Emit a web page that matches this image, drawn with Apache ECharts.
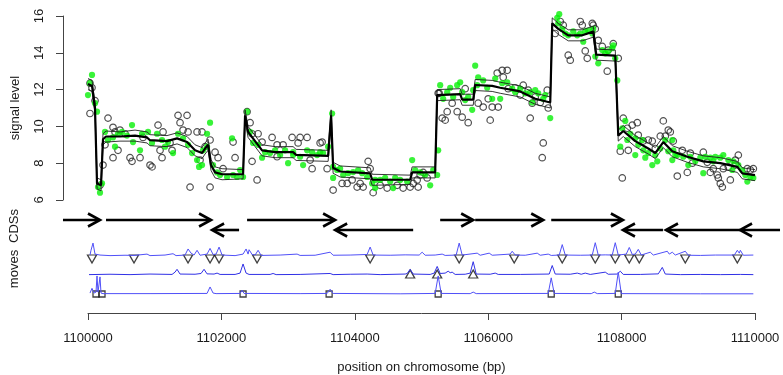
<!DOCTYPE html>
<html>
<head>
<meta charset="utf-8">
<script src="https://cdn.jsdelivr.net/npm/echarts@6/dist/echarts.min.js"></script>
<style>
  html, body { margin: 0; padding: 0; background: #ffffff; }
  #chart { width: 783px; height: 375px; }
</style>
</head>
<body>
<div id="chart"></div>
<script>
// Genomic window; all positions below are bp offsets from regionStart.
const regionStart = 1100000;
const regionEnd = 1110000;
const xTickStep = 2000;
const signalTicks = [6, 8, 10, 12, 14, 16];

// Raw signal (open circles): [offset, level]
const rawSignal = [
  [30,12.35],[60,12.1],[30,10.7],[105,11.4],[180,6.8],[225,7.9],[255,9.0],
  [300,10.45],[375,9.95],[375,8.3],[405,9.7],[480,9.8],[450,8.7],[555,9.6],[630,8.3],[660,8.1],[780,8.3],
  [825,9.4],[930,7.9],[960,7.8],[1050,10.07],[1080,8.7],[1125,9.7],[1110,8.3],[1230,9.1],[1350,10.6],
  [1380,10.2],[1485,10.6],[1500,9.7],[1425,9.8],[1635,9.7],[1530,6.7],[1680,8.17],[1260,8.7],
  [1710,9.7],[1755,8.9],[1830,9.26],[1905,8.6],[1950,8.3],[2025,7.7],[2175,9.15],[2205,8.3],[1830,6.7],
  [2535,7.09],[2385,10.8],[2430,10.2],[2460,9.6],[2550,9.6],[2610,9.15],[2760,9.4],[2835,9.0],[2925,9.0],
  [3060,9.4],[3180,9.4],[3285,9.4],[3150,9.1],[3360,7.7],[3330,8.17],[3480,9.1],[2460,8.1],[2835,8.35],
  [3510,9.15],[3585,7.7],[3675,6.54],[3810,6.9],[3885,6.9],[3960,7.09],[4035,6.7],[4080,6.9],[4125,6.7],
  [4200,8.1],[4230,7.7],[4275,6.4],[4380,6.8],[4485,6.65],[4635,6.8],[4725,6.65],[4830,6.7],[4875,6.9],
  [4950,6.7],[4980,7.36],[5025,7.5],[5085,7.2],[4935,7.09],[5265,11.8],
  [5250,11.8],[5310,10.45],[5355,10.34],[5385,10.8],[5460,11.26],[5535,10.8],[5610,10.5],[5700,10.2],
  [5655,12.05],[5850,11.26],[5925,11.05],[6000,11.5],[6030,10.34],[6060,11.05],[6135,12.9],[6210,13.05],
  [6285,13.05],[6225,12.67],[6150,11.05],[6300,12.05],[6405,12.1],[6480,11.7],[6525,12.24],[6600,11.97],
  [6660,11.26],[6630,10.45],[6705,11.6],[6780,11.3],[6885,11.97],[6825,9.1],[6810,8.3],[6900,11.0],
  [7005,15.05],[7080,15.7],[7125,15.5],[7200,13.87],[7230,13.6],[7380,15.7],[7410,15.5],[7455,14.1],
  [7485,13.7],[7560,15.6],[7575,15.5],[7605,15.3],[7650,14.68],[7710,14.35],[7785,13.0],[7800,14.15],
  [7875,14.5],[7950,13.7],[7980,8.65],[8025,10.45],[8010,7.2],[8085,9.9],[8100,8.7],[8160,10.07],
  [8235,10.2],[8250,9.53],[8325,9.2],[8400,9.26],[8460,9.2],[8580,9.47],[8625,10.3],[8700,9.8],
  [8655,9.47],[8775,9.2],[8835,7.3],[8505,8.8],
  [8730,9.7],[8910,8.7],[9030,8.55],[8985,7.5],[9060,8.0],[9225,8.6],[9285,8.05],[9330,7.5],[9435,7.36],
  [9480,6.9],[9510,6.7],[9450,7.2],[9630,7.09],[9600,7.8],[9705,8.17],[9750,8.44],[9885,7.7],[9930,7.63],
  [9975,7.7],[9705,7.9],[9525,7.7],[9375,7.7]
];

// Normalised signal (filled green points): [offset, level]
const normSignal = [
  [60,12.8],[30,12.35],[0,11.7],[105,11.26],[135,10.8],[150,6.7],[180,6.4],[210,6.9],
  [255,9.7],[300,9.26],[375,9.4],[405,8.9],[450,9.6],[510,9.7],[585,9.5],[660,10.07],[675,9.15],[780,8.7],
  [810,9.6],[900,9.7],[960,9.1],[1035,9.6],[1110,9.26],[1155,8.9],[1200,9.15],[1275,8.55],[1350,9.6],
  [1425,9.35],[1500,9.0],[1560,8.55],[1635,8.17],[1665,7.8],[1725,8.7],
  [1830,10.2],[1785,9.6],[1785,8.9],[1710,7.9],[1875,7.9],[1935,7.5],[1980,7.36],[2085,7.25],[2175,7.36],
  [2235,7.25],[2280,7.63],[2325,7.25],[2160,9.35],[2385,10.8],[2430,9.7],[2475,9.1],[2550,9.0],[2610,8.3],
  [2655,8.6],[2730,8.55],[2805,8.7],[2880,8.44],[2955,8.7],[3000,8.0],[3075,8.6],[3180,8.35],[3285,8.7],
  [3360,8.6],[3435,8.44],[3480,8.6],[3225,7.9],[3075,8.44],
  [3525,8.55],[3600,8.9],[3660,10.7],[3675,7.8],[3735,7.63],[3780,7.7],[3825,7.36],[3900,7.46],[3975,7.52],
  [4050,7.63],[4110,7.46],[3675,7.2],[4185,7.25],[4260,6.9],[4305,7.09],[4380,7.09],[4455,7.2],[4530,7.0],
  [4605,7.2],[4680,7.09],[4785,7.0],[4860,8.17],[4905,7.63],[4980,7.5],[5055,7.36],[5130,6.8],[5175,7.63],
  [5250,8.7],[4305,6.65],[4575,6.65],
  [5235,7.36],[5280,12.24],[5325,11.5],[5385,11.86],[5430,12.1],[5475,11.6],[5535,12.24],[5580,12.4],
  [5610,11.86],[5655,11.43],[5700,11.6],[5760,10.9],[5775,11.97],[5835,12.24],[5805,13.3],[5850,12.67],
  [5925,12.5],[5985,12.1],[6060,11.5],[6105,12.6],[6210,12.35],[6285,12.4],[6360,12.05],[6405,11.86],
  [6480,12.05],[6555,11.8],[6630,11.86],[6705,11.97],[6750,11.8],[6825,11.5],[6855,11.7],[6930,10.45],
  [6180,11.5],[6660,11.3],
  [7035,15.9],[7065,16.1],[7050,15.6],[7110,15.3],[7155,15.05],[7200,14.95],[7275,15.17],[7335,14.95],
  [7380,15.05],[7425,14.6],[7455,15.17],[7500,15.2],[7560,15.05],[7575,15.3],[7605,13.8],[7650,13.43],
  [7710,14.15],[7755,13.97],[7800,14.08],[7860,14.25],[7875,14.4],[7905,13.7],[7935,12.5],[8010,9.9],
  [8055,10.3],[8085,9.26],[8130,9.6],[8205,9.35],[8250,9.0],[8310,9.26],[8325,8.7],[8400,8.55],[8460,7.9],
  [8505,8.44],[8580,8.8],[8655,9.26],[8700,8.65],[8760,8.17],[8805,8.44],[7980,8.9],[8205,8.44],[8355,8.3],
  [8535,8.1],
  [8760,9.26],[8775,8.7],[8835,8.44],[8925,8.35],[9030,8.35],[9105,8.1],[9180,8.3],[9255,8.35],[9330,8.3],
  [9405,8.35],[9480,8.3],[9525,8.44],[9600,8.17],[9675,8.1],[9750,7.9],[9810,7.63],[9855,7.36],[9930,7.25],
  [9975,7.2],[9225,7.46],[9375,8.1],[9000,7.9],[9885,7.0],[9660,7.63]
];

// Fitted level with its lower / upper band
const fitPos = [
  0,60,105,135,195,225,270,480,705,885,930,1185,1335,1485,1605,1710,1755,1800,1845,1905,
  2010,2325,2355,2400,2505,2610,2805,3075,3120,3600,3645,3675,3780,4230,4260,4830,4860,5205,5235,5580,
  5610,5775,5805,6060,6180,6480,6705,6930,6960,7050,7200,7410,7575,7620,7905,7950,8025,8205,8400,8505,
  8625,8760,8985,9225,9480,9735,9810,10000
];
const fitMid = [
  12.3,12.2,11.0,6.9,6.8,9.3,9.45,9.45,9.5,9.4,9.25,9.2,9.35,9.15,8.7,8.55,8.8,9.0,7.9,7.5,
  7.4,7.4,10.6,9.7,9.2,8.7,8.6,8.6,8.45,8.4,10.6,7.75,7.55,7.45,7.1,7.1,7.5,7.5,11.7,11.75,
  11.45,11.45,12.25,12.2,12.1,11.9,11.5,11.3,15.6,15.3,14.95,14.95,15.15,13.9,13.85,9.5,9.75,9.2,8.8,8.55,
  9.15,8.65,8.35,8.1,8.0,7.8,7.45,7.35
];
const fitUpper = [
  12.6,12.5,11.3,7.2,7.1,9.6,9.75,9.7,9.8,9.7,9.55,9.5,9.65,9.45,9.0,8.85,9.1,9.3,8.2,7.8,
  7.7,7.65,10.9,10.0,9.5,9.0,8.9,8.9,8.75,8.7,10.9,8.05,7.85,7.75,7.4,7.35,7.8,7.8,12.0,12.05,
  11.75,11.75,12.55,12.5,12.4,12.2,11.8,11.6,15.9,15.6,15.25,15.25,15.45,14.2,14.15,9.8,10.05,9.5,9.1,8.85,
  9.45,8.95,8.65,8.4,8.3,8.1,7.75,7.65
];
const fitLower = [
  12.0,11.9,10.7,6.6,6.5,9.0,9.15,9.2,9.2,9.1,8.95,8.9,9.05,8.85,8.4,8.25,8.5,8.7,7.6,7.2,
  7.1,7.15,10.3,9.4,8.9,8.4,8.3,8.3,8.15,8.1,10.3,7.45,7.25,7.15,6.8,6.85,7.2,7.2,11.4,11.45,
  11.15,11.15,11.95,11.9,11.8,11.6,11.2,11.0,15.3,15.0,14.65,14.65,14.85,13.6,13.55,9.2,9.45,8.9,8.5,8.25,
  8.85,8.35,8.05,7.8,7.7,7.5,7.15,7.05
];

// Coding sequences: start, end, strand
const cdsStart  = [-375, 270, 1860, 2385, 3705, 5280, 5805, 6945, 8020, 8665, 9775];
const cdsEnd    = [180, 1845, 2265, 3705, 4875, 5775, 6825, 8020, 8620, 9775, 10375];
const cdsStrand = [1, 1, -1, 1, -1, 1, 1, 1, -1, -1, -1];

// Move traces: [offset, score]
const movesA = [
  [30,0.05],[45,0.3],[75,0.68],[105,0.1],[180,0.05],[330,0.02],[555,0.04],[690,0.03],[885,0.1],[930,0.02],
  [1155,0.05],[1275,0.12],[1320,0.02],[1455,0.05],[1500,0.37],[1545,0.15],[1590,0.05],[1635,0.3],[1680,0.04],
  [1785,0.1],[1830,0.4],[1875,0.08],[1920,0.1],[1965,0.47],[2010,0.05],[2205,0.02],[2325,0.1],[2370,0.37],
  [2400,0.1],[2415,0.33],[2460,0.08],[2505,0.05],[2550,0.3],[2595,0.03],[2880,0.05],[3135,0.1],[3180,0.03],
  [3405,0.04],[3630,0.2],[3675,0.04],[3930,0.05],[4185,0.08],[4230,0.47],[4275,0.05],[4530,0.04],[4755,0.06],
  [4965,0.05],[5010,0.2],[5055,0.04],[5205,0.05],[5310,0.1],[5355,0.03],[5520,0.05],[5565,0.68],[5610,0.05],
  [5835,0.15],[5880,0.04],[6015,0.15],[6060,0.04],[6330,0.1],[6360,0.25],[6405,0.05],[6555,0.04],[6735,0.15],
  [6780,0.04],[6900,0.1],[6945,0.03],[7065,0.05],[7110,0.6],[7155,0.05],[7380,0.04],[7560,0.05],[7605,0.7],
  [7650,0.05],[7755,0.06],[7860,0.05],[7905,0.7],[7950,0.05],[8070,0.1],[8115,0.45],[8160,0.08],[8205,0.1],
  [8250,0.35],[8295,0.05],[8430,0.2],[8475,0.05],[8685,0.25],[8715,0.1],[8760,0.2],[8805,0.05],[8955,0.25],
  [9000,0.04],[9180,0.03],[9405,0.05],[9690,0.05],[9735,0.3],[9765,0.15],[9780,0.3],[9825,0.04],[9975,0.05]
];
const movesB = [
  [15,0.02],[330,0.04],[630,0.02],[930,0.05],[1260,0.03],[1305,0.15],[1335,0.3],[1380,0.05],[1605,0.04],
  [1695,0.08],[1740,0.3],[1785,0.06],[1890,0.05],[1935,0.1],[1980,0.03],[2205,0.03],[2280,0.1],[2325,0.58],
  [2370,0.1],[2415,0.03],[2730,0.03],[2775,0.08],[2820,0.02],[3180,0.03],[3630,0.08],[3675,0.02],[3930,0.04],
  [4185,0.05],[4380,0.02],[4755,0.05],[4785,0.08],[4830,0.3],[4875,0.05],[5130,0.03],[5190,0.1],[5235,0.45],
  [5280,0.08],[5355,0.1],[5400,0.2],[5430,0.12],[5460,0.15],[5505,0.03],[5655,0.04],[5730,0.1],[5775,0.7],
  [5820,0.05],[6030,0.04],[6105,0.1],[6150,0.03],[6480,0.03],[6915,0.05],[6960,0.5],[7005,0.05],[7230,0.04],
  [7335,0.1],[7395,0.04],[7455,0.1],[7530,0.03],[7755,0.15],[7800,0.04],[7935,0.05],[7980,0.2],[8025,0.03],
  [8280,0.03],[8550,0.06],[8610,0.4],[8655,0.05],[8880,0.02],[9180,0.03],[9480,0.02],[9780,0.03],[9975,0.02]
];
const movesC = [
  [30,0.05],[60,0.3],[90,0.05],[120,0.1],[135,0.95],[150,0.1],[165,0.1],[180,0.9],[195,0.05],[225,0.02],
  [930,0.02],[1785,0.03],[1830,0.37],[1875,0.05],[1920,0.02],[2280,0.03],[2310,0.2],[2340,0.03],[3180,0.02],
  [3585,0.03],[3630,0.25],[3675,0.03],[4680,0.01],[5205,0.03],[5250,0.95],[5295,0.03],[5730,0.02],[5775,0.1],
  [5820,0.02],[6900,0.03],[6945,0.85],[6990,0.03],[7545,0.02],[7590,0.1],[7635,0.02],[7905,0.03],[7950,1.15],
  [7995,0.02],[9180,0.01],[9975,0.01]
];
// Called move events on each trace
const eventsA = [60, 690, 1500, 1830, 1965, 2535, 4230, 5565, 6390, 7110, 7605, 7905, 8115, 8265, 8955, 9735];
const eventsB = [4830, 5235, 5775];
const eventsC = [120, 210, 2325, 3615, 5250, 6945, 7950];

const FONT = 'Liberation Sans';
const INK = '#1a1a1a';
const MOVE_BLUE = '#5050f8';

const abs = p => regionStart + p;
const lane = (pts, base) => pts.map(([p, v]) => [abs(p), v + base]);
const events = (list, base) => list.map(p => [abs(p), base]);

const fitSeries = (vals, width, color) => ({
  type: 'line', xAxisIndex: 0, yAxisIndex: 0,
  data: fitPos.map((p, i) => [abs(p), vals[i]]),
  showSymbol: false, clip: false, silent: true,
  lineStyle: { color, width }
});

const chart = echarts.init(document.getElementById('chart'), null, { renderer: 'canvas' });

const plotLeft = 88, plotWidth = 667;
const hiddenX = idx => ({
  type: 'value', gridIndex: idx, min: regionStart, max: regionEnd, show: false
});
const hiddenY = (idx, min, max) => ({ type: 'value', gridIndex: idx, min, max, show: false });

// Rotated panel title on the left margin
const panelTitle = (text, cy) => ({
  type: 'text', x: 14, y: cy, rotation: Math.PI / 2,
  style: { text, font: `13px "${FONT}"`, fill: INK, align: 'center', verticalAlign: 'middle' }
});

chart.setOption({
  animation: false,
  backgroundColor: '#ffffff',
  grid: [
    { left: plotLeft, width: plotWidth, top: 16, height: 184 },
    { left: plotLeft, width: plotWidth, top: 220, height: 10 },
    { left: plotLeft, width: plotWidth, top: 237, height: 57 },
    { left: plotLeft, width: plotWidth, top: 300, height: 13 }
  ],
  graphic: [
    panelTitle('CDSs', 226),
    panelTitle('moves', 269)
  ],
  xAxis: [
    hiddenX(0),
    hiddenX(1),
    hiddenX(2),
    {
      type: 'value', gridIndex: 3, min: regionStart, max: regionEnd, interval: xTickStep,
      position: 'bottom',
      name: 'position on chromosome (bp)', nameLocation: 'middle', nameGap: 48,
      nameTextStyle: { fontFamily: FONT, fontSize: 13, color: INK },
      axisLine: { show: true, lineStyle: { color: '#444', width: 1 } },
      axisTick: { show: true, length: 7, lineStyle: { color: '#444' } },
      axisLabel: { margin: 19, fontFamily: FONT, fontSize: 13, color: INK, formatter: v => String(v) },
      splitLine: { show: false }
    }
  ],
  yAxis: [
    {
      type: 'value', gridIndex: 0, min: signalTicks[0], max: signalTicks[signalTicks.length - 1],
      interval: signalTicks[1] - signalTicks[0], offset: 25,
      name: 'signal level', nameLocation: 'middle', nameGap: 41,
      nameTextStyle: { fontFamily: FONT, fontSize: 13, color: INK },
      axisLine: { show: true, lineStyle: { color: '#444', width: 1 } },
      axisTick: { show: true, length: 7, lineStyle: { color: '#444' } },
      axisLabel: { rotate: 90, margin: 17, fontFamily: FONT, fontSize: 13, color: INK, formatter: v => String(v) },
      splitLine: { show: false }
    },
    hiddenY(1, 0, 1),
    hiddenY(2, 0, 3),
    hiddenY(3, 0, 1)
  ],
  series: [
    {
      type: 'scatter', xAxisIndex: 0, yAxisIndex: 0, clip: false, silent: true,
      data: rawSignal.map(([p, v]) => [abs(p), v]),
      symbol: 'circle', symbolSize: 6.5,
      itemStyle: { color: 'rgba(0,0,0,0)', borderColor: '#262626', borderWidth: 1.2 }
    },
    {
      type: 'scatter', xAxisIndex: 0, yAxisIndex: 0, clip: false, silent: true,
      data: normSignal.map(([p, v]) => [abs(p), v]),
      symbol: 'circle', symbolSize: 6.2,
      itemStyle: { color: '#08f008' }
    },
    fitSeries(fitLower, 0.9, '#202020'),
    fitSeries(fitUpper, 0.9, '#202020'),
    fitSeries(fitMid, 2.2, '#000000'),
    {
      type: 'custom', xAxisIndex: 1, yAxisIndex: 1, clip: false, silent: true,
      data: cdsStart.map((s, i) => [abs(s), abs(cdsEnd[i]), cdsStrand[i]]),
      encode: { x: [0, 1], y: 2 },
      renderItem: (params, api) => {
        const s = api.value(0), e = api.value(1), strand = api.value(2);
        const row = strand > 0 ? 1 : 0;
        const a = api.coord([s, row]), b = api.coord([e, row]);
        const tail = strand > 0 ? a : b;
        const head = strand > 0 ? b : a;
        const dir = strand > 0 ? 1 : -1;
        const hl = 12, hw = 6.5;
        const st = { stroke: '#000', lineWidth: 2.6, fill: null };
        return {
          type: 'group',
          children: [
            { type: 'line', shape: { x1: tail[0], y1: tail[1], x2: head[0] - dir * 1, y2: head[1] }, style: st },
            { type: 'polyline', shape: { points: [[head[0] - dir * hl, head[1] - hw], [head[0], head[1]], [head[0] - dir * hl, head[1] + hw]] }, style: st }
          ]
        };
      }
    },
    {
      type: 'line', xAxisIndex: 2, yAxisIndex: 2, data: lane(movesA, 2), showSymbol: false, clip: false, silent: true,
      lineStyle: { color: MOVE_BLUE, width: 1 }
    },
    {
      type: 'line', xAxisIndex: 2, yAxisIndex: 2, data: lane(movesB, 1), showSymbol: false, clip: false, silent: true,
      lineStyle: { color: '#3030e6', width: 1 }
    },
    {
      type: 'line', xAxisIndex: 2, yAxisIndex: 2, data: lane(movesC, 0), showSymbol: false, clip: false, silent: true,
      lineStyle: { color: MOVE_BLUE, width: 1 }
    },
    {
      type: 'scatter', xAxisIndex: 2, yAxisIndex: 2, data: events(eventsA, 2), clip: false, silent: true,
      symbol: 'triangle', symbolRotate: 180, symbolSize: [9, 8], symbolOffset: [0, 3],
      itemStyle: { color: 'rgba(0,0,0,0)', borderColor: '#111', borderWidth: 1.3 }
    },
    {
      type: 'scatter', xAxisIndex: 2, yAxisIndex: 2, data: events(eventsB, 1), clip: false, silent: true,
      symbol: 'triangle', symbolSize: [9, 8], symbolOffset: [0, -1],
      itemStyle: { color: 'rgba(0,0,0,0)', borderColor: '#111', borderWidth: 1.3 }
    },
    {
      type: 'scatter', xAxisIndex: 2, yAxisIndex: 2, data: events(eventsC, 0), clip: false, silent: true,
      symbol: 'rect', symbolSize: 6,
      itemStyle: { color: 'rgba(0,0,0,0)', borderColor: '#111', borderWidth: 1.3 }
    }
  ]
});
</script>
</body>
</html>
